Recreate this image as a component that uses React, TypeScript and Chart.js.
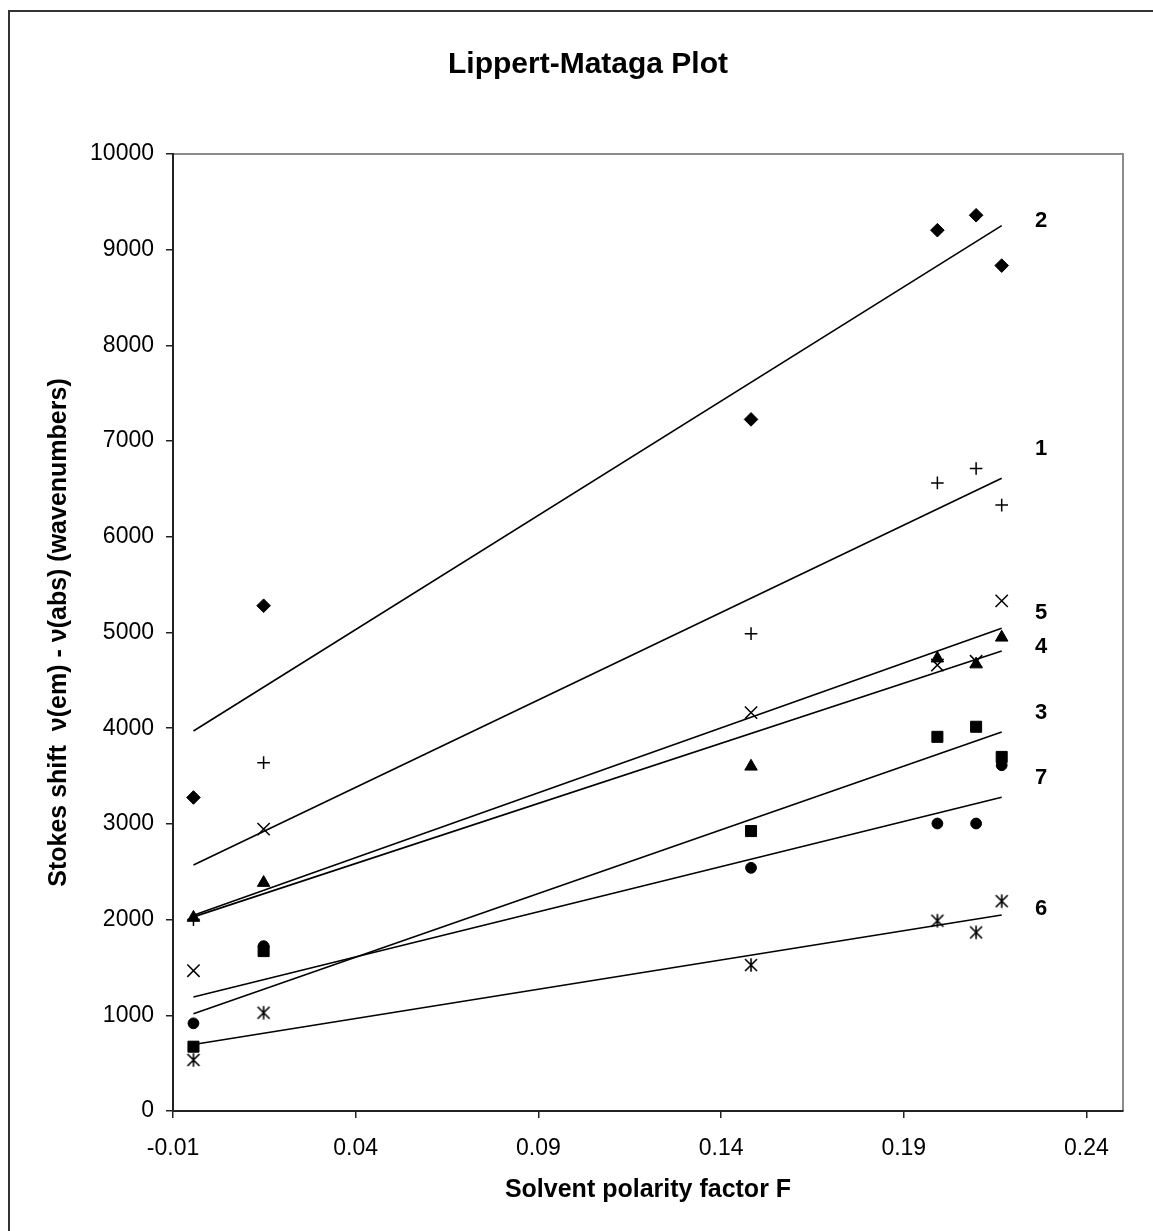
import React, { useEffect, useRef } from "react";
import { Chart, registerables } from "chart.js";

Chart.register(...registerables);

const TITLE = "Lippert-Mataga Plot";
const X_TITLE = "Solvent polarity factor F";
const Y_TITLE = "Stokes shift  ν(em) - ν(abs) (wavenumbers)";

// Solvent polarity factor F of the six solvents
const polarityF = [-0.0044, 0.0148, 0.1482, 0.1992, 0.2098, 0.2168];

// Stokes shift (cm-1) per compound
const series1 = [2000, 3640, 4988, 6563, 6713, 6331]; // plus
const series2 = [3276, 5280, 7227, 9204, 9360, 8834]; // diamond
const series3 = [672, 1671, 2925, 3910, 4015, 3700]; // square
const series4 = [2020, 2385, 3600, 4730, 4668, 4948]; // triangle
const series5 = [1466, 2946, 4163, 4660, 4699, 5331]; // x
const series6 = [533, 1027, 1525, 1988, 1866, 2193]; // asterisk
const series7 = [916, 1723, 2541, 3004, 3004, 3613]; // circle

const seriesNames = ["1", "2", "3", "4", "5", "6", "7"];
// where each series number is written (data units)
const labelF = 0.2276;
const labelValues = [6914, 9303, 4162, 4852, 5201, 2108, 3483];

const xTicks = [-0.01, 0.04, 0.09, 0.14, 0.19, 0.24];
const yTicks = [0, 1000, 2000, 3000, 4000, 5000, 6000, 7000, 8000, 9000, 10000];

const FONT = "'Liberation Sans', Arial, Helvetica, sans-serif";

function linearFit(xs: number[], ys: number[]) {
  const n = xs.length;
  const mx = xs.reduce((a, b) => a + b, 0) / n;
  const my = ys.reduce((a, b) => a + b, 0) / n;
  let sxy = 0;
  let sxx = 0;
  for (let i = 0; i < n; i++) {
    sxy += (xs[i] - mx) * (ys[i] - my);
    sxx += (xs[i] - mx) * (xs[i] - mx);
  }
  const slope = sxy / sxx;
  return { slope, intercept: my - slope * mx };
}

function makeAsterisk(): HTMLCanvasElement {
  const c = document.createElement("canvas");
  c.width = 16;
  c.height = 16;
  const g = c.getContext("2d") as CanvasRenderingContext2D;
  g.strokeStyle = "#000";
  g.lineWidth = 1.6;
  const m = 8;
  const d = 6;
  const r = 6.8;
  g.beginPath();
  g.moveTo(m - d, m - d);
  g.lineTo(m + d, m + d);
  g.moveTo(m + d, m - d);
  g.lineTo(m - d, m + d);
  g.moveTo(m, m - r);
  g.lineTo(m, m + r);
  g.stroke();
  return c;
}

const decorPlugin = {
  id: "decor",
  beforeDraw(chart: any) {
    const ctx = chart.ctx as CanvasRenderingContext2D;
    const a = chart.chartArea;
    ctx.save();
    ctx.fillStyle = "#ffffff";
    ctx.fillRect(0, 0, chart.width, chart.height);
    // outer chart frame
    ctx.strokeStyle = "#333333";
    ctx.lineWidth = 2;
    ctx.beginPath();
    ctx.moveTo(9, chart.height + 10);
    ctx.lineTo(9, 11);
    ctx.lineTo(chart.width + 10, 11);
    ctx.stroke();
    // plot area border (top / right)
    ctx.strokeStyle = "#8c8c8c";
    ctx.lineWidth = 2;
    ctx.beginPath();
    ctx.moveTo(a.left, a.top);
    ctx.lineTo(a.right, a.top);
    ctx.lineTo(a.right, a.bottom);
    ctx.stroke();
    // title
    ctx.fillStyle = "#000";
    ctx.font = `bold 30px ${FONT}`;
    ctx.textAlign = "center";
    ctx.textBaseline = "middle";
    ctx.fillText(TITLE, 588, 65);
    ctx.restore();
  },
  afterDraw(chart: any) {
    const ctx = chart.ctx as CanvasRenderingContext2D;
    const xs = chart.scales.x;
    const ys = chart.scales.y;
    ctx.save();
    ctx.fillStyle = "#000";
    ctx.font = `bold 22px ${FONT}`;
    ctx.textAlign = "center";
    ctx.textBaseline = "middle";
    seriesNames.forEach((n, i) => {
      ctx.fillText(n, xs.getPixelForValue(labelF), ys.getPixelForValue(labelValues[i]));
    });
    ctx.restore();
  },
};

export default function App() {
  const ref = useRef<HTMLCanvasElement | null>(null);

  useEffect(() => {
    if (!ref.current) return;
    const asterisk = makeAsterisk();
    const allSeries = [series1, series2, series3, series4, series5, series6, series7];
    const styles: any[] = [
      { pointStyle: "cross", radius: 6.3, bw: 1.5 },
      { pointStyle: "rectRot", radius: 6.8, bw: 1 },
      { pointStyle: "rect", radius: 7.8, bw: 1 },
      { pointStyle: "triangle", radius: 7.2, bw: 1 },
      { pointStyle: "crossRot", radius: 8.7, bw: 1.5 },
      { pointStyle: asterisk, radius: 8, bw: 1 },
      { pointStyle: "circle", radius: 5.4, bw: 1 },
    ];
    const fMin = Math.min(...polarityF);
    const fMax = Math.max(...polarityF);

    const lineSets = allSeries.map((s, i) => {
      const { slope, intercept } = linearFit(polarityF, s);
      return {
        label: `fit ${seriesNames[i]}`,
        data: [
          { x: fMin, y: intercept + slope * fMin },
          { x: fMax, y: intercept + slope * fMax },
        ],
        showLine: true,
        borderColor: "#000",
        borderWidth: 1.6,
        pointRadius: 0,
        fill: false,
      };
    });
    const pointSets = allSeries.map((s, i) => ({
      label: seriesNames[i],
      data: polarityF.map((f, j) => ({ x: f, y: s[j] })),
      showLine: false,
      pointStyle: styles[i].pointStyle,
      pointRadius: styles[i].radius,
      pointBorderWidth: styles[i].bw,
      pointBackgroundColor: "#000",
      pointBorderColor: "#000",
      borderColor: "#000",
      backgroundColor: "#000",
    }));

    const tickFont = { family: FONT, size: 23 };
    const titleFont = { family: FONT, size: 25, weight: "bold" as const };

    const chart = new Chart(ref.current, {
      type: "scatter",
      data: { datasets: [...pointSets, ...lineSets] as any },
      options: {
        animation: false,
        responsive: false,
        layout: { padding: { left: 0, right: 30, top: 154, bottom: 0 } },
        plugins: {
          legend: { display: false },
          tooltip: { enabled: false },
          title: { display: false },
        },
        scales: {
          x: {
            type: "linear",
            min: -0.01,
            max: 0.25,
            afterBuildTicks: (s: any) => {
              s.ticks = xTicks.map((v) => ({ value: v }));
            },
            afterFit: (s: any) => {
              s.height = 120;
            },
            ticks: {
              callback: (v: any) => Number(v).toFixed(2),
              font: tickFont,
              color: "#000",
              padding: 17,
              maxRotation: 0,
              autoSkip: false,
            },
            grid: {
              drawOnChartArea: false,
              drawTicks: true,
              tickLength: 7,
              tickColor: "#222",
              lineWidth: 1.5,
            },
            border: { color: "#222", width: 2 },
            title: {
              display: true,
              text: X_TITLE,
              font: titleFont,
              color: "#000",
              padding: { top: 0, bottom: 26 },
            },
          },
          y: {
            type: "linear",
            min: 0,
            max: 10000,
            afterBuildTicks: (s: any) => {
              s.ticks = yTicks.map((v) => ({ value: v }));
            },
            afterFit: (s: any) => {
              s.width = 173;
            },
            ticks: {
              callback: (v: any) => String(v),
              font: tickFont,
              color: "#000",
              padding: 12,
              autoSkip: false,
            },
            grid: {
              drawOnChartArea: false,
              drawTicks: true,
              tickLength: 7,
              tickColor: "#222",
              lineWidth: 1.5,
            },
            border: { color: "#222", width: 2 },
            title: {
              display: true,
              text: Y_TITLE,
              font: titleFont,
              color: "#000",
              padding: { top: 44, bottom: 0 },
            },
          },
        },
      },
      plugins: [decorPlugin],
    });
    return () => chart.destroy();
  }, []);

  return (
    <div
      style={{
        position: "fixed",
        left: 0,
        top: 0,
        width: 1153,
        height: 1231,
        background: "#fff",
        overflow: "hidden",
      }}
    >
      <canvas ref={ref} width={1153} height={1231} style={{ display: "block" }} />
    </div>
  );
}
